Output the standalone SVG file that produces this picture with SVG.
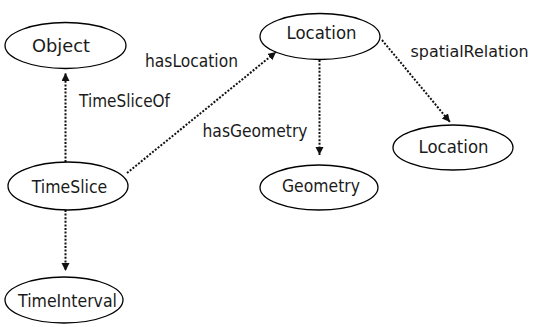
<svg xmlns="http://www.w3.org/2000/svg" width="534" height="327" viewBox="0 0 534 327">
<style>
  .node ellipse { fill: #ffffff; stroke: #000000; stroke-width: 1.3; }
  .node text { font-family: "DejaVu Sans", "Liberation Sans", sans-serif; font-size: 17px; fill: #1a1a1a; text-anchor: middle; }
  .edge line { stroke: #111111; stroke-width: 2; stroke-dasharray: 2 1.6; fill: none; }
  .lbl { font-family: "DejaVu Sans", "Liberation Sans", sans-serif; font-size: 17px; fill: #1a1a1a; }
</style>
<defs>
  <marker id="arr" markerUnits="userSpaceOnUse" markerWidth="10" markerHeight="10" refX="8" refY="4" orient="auto">
    <path d="M0,0 L8,4 L0,8 z" fill="#111111"/>
  </marker>
</defs>
<g id="connectors" class="edge">
  <line x1="65.5" y1="162" x2="65.5" y2="73" marker-end="url(#arr)"/>
  <line x1="65.5" y1="210" x2="65.5" y2="271" marker-end="url(#arr)"/>
  <line x1="127" y1="173" x2="276" y2="52" marker-end="url(#arr)"/>
  <line x1="319.5" y1="60" x2="319.5" y2="155" marker-end="url(#arr)"/>
  <line x1="382" y1="40" x2="450" y2="122" marker-end="url(#arr)"/>
</g>
<g id="labels">
  <text class="lbl" x="145" y="66.5" textLength="93" lengthAdjust="spacingAndGlyphs">hasLocation</text>
  <text class="lbl" x="79" y="106.5" textLength="91" lengthAdjust="spacingAndGlyphs">TimeSliceOf</text>
  <text class="lbl" x="202.5" y="136.5" textLength="105" lengthAdjust="spacingAndGlyphs">hasGeometry</text>
  <text class="lbl" x="410.5" y="56.5" style="font-size:16px" textLength="118" lengthAdjust="spacingAndGlyphs">spatialRelation</text>
</g>
<g id="node-object" class="node">
  <ellipse cx="65.5" cy="45.5" rx="60.5" ry="23"/>
  <text x="61" y="52" textLength="58" lengthAdjust="spacingAndGlyphs">Object</text>
</g>
<g id="node-location" class="node">
  <ellipse cx="320" cy="36.5" rx="60" ry="23"/>
  <text x="321.5" y="38.5" textLength="70" lengthAdjust="spacingAndGlyphs">Location</text>
</g>
<g id="node-location2" class="node">
  <ellipse cx="453" cy="147.5" rx="60" ry="22.5"/>
  <text x="453.5" y="153" textLength="70" lengthAdjust="spacingAndGlyphs">Location</text>
</g>
<g id="node-geometry" class="node">
  <ellipse cx="319" cy="187.5" rx="59" ry="22.5"/>
  <text x="321" y="191.5" textLength="78" lengthAdjust="spacingAndGlyphs">Geometry</text>
</g>
<g id="node-timeslice" class="node">
  <ellipse cx="68" cy="186" rx="60" ry="24"/>
  <text x="69.5" y="193" textLength="75.5" lengthAdjust="spacingAndGlyphs">TimeSlice</text>
</g>
<g id="node-timeinterval" class="node">
  <ellipse cx="64" cy="300" rx="59" ry="23"/>
  <text x="67.5" y="307" textLength="99" lengthAdjust="spacingAndGlyphs">TimeInterval</text>
</g>
</svg>
